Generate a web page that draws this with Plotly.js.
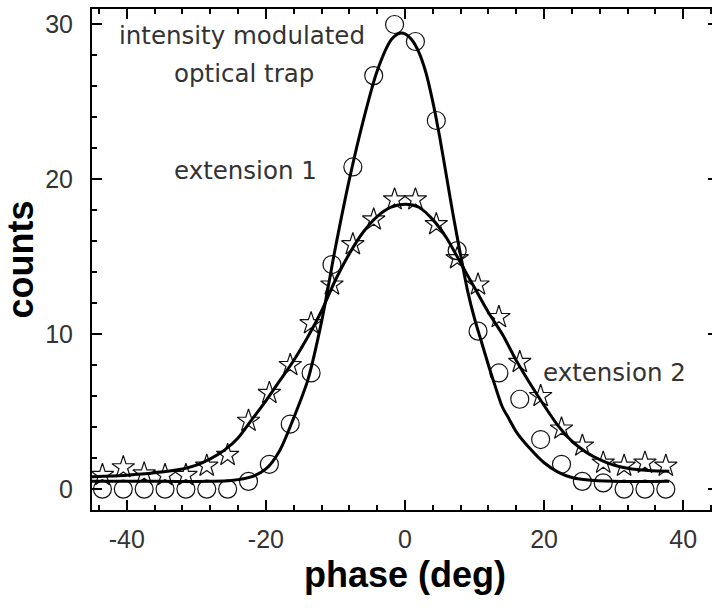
<!DOCTYPE html>
<html>
<head>
<meta charset="utf-8">
<script src="https://cdn.plot.ly/plotly-3.0.1.min.js"></script>
<style>
html, body { margin: 0; padding: 0; overflow: hidden; background: #fff; }
#chart { width: 718px; height: 608px; }
</style>
</head>
<body>
<div id="chart"></div>
<script>
// Phase bins (deg)
const phase = [-43.5, -40.5, -37.5, -34.5, -31.5, -28.5, -25.5, -22.5, -19.5, -16.5,
               -13.5, -10.5, -7.5, -4.5, -1.5, 1.5, 4.5, 7.5, 10.5, 13.5,
               16.5, 19.5, 22.5, 25.5, 28.5, 31.5, 34.5, 37.5];
// extension 1 (circles)
const ext1Counts = [0, 0, 0, 0, 0, 0, 0, 0.5, 1.6, 4.2,
                    7.5, 14.5, 20.8, 26.7, 30.0, 28.9, 23.8, 15.4, 10.2, 7.5,
                    5.8, 3.2, 1.6, 0.5, 0.4, 0, 0, 0];
// extension 2 (stars)
const ext2Counts = [0.9, 1.4, 1.0, 0.9, 0.9, 1.5, 2.2, 4.4, 6.2, 8.0,
                    10.7, 13.2, 15.8, 17.4, 18.7, 18.7, 17.1, 14.9, 13.2, 11.1,
                    8.2, 6.0, 3.9, 2.8, 1.7, 1.5, 1.7, 1.5];
// fitted curve for extension 1
const fit1X = [-45, -35, -28, -25, -22, -20, -18, -16, -14, -12, -10, -8, -6, -4, -2, -1, 0,
               1, 2, 3, 4, 5, 6, 7, 8, 9, 10, 11, 12, 13, 14, 15, 16, 18, 20, 22, 24, 26, 30, 38];
const fit1Y = [0.5, 0.5, 0.5, 0.55, 0.8, 1.3, 2.5, 4.6, 7.0, 10.8, 15.6, 20.0, 23.8, 27.0, 29.0, 29.4, 29.4,
               29.0, 28.2, 26.9, 25.0, 22.7, 20.1, 17.5, 15.1, 12.8, 11.0, 9.5, 8.0, 6.6, 5.3, 4.5, 3.7, 2.6, 1.7, 1.1, 0.75, 0.6, 0.5, 0.5];
// fitted curve for extension 2
const fit2X = [-45, -40, -36, -32, -30, -28, -26, -24, -22, -20, -18, -16, -14, -12, -10, -8, -6, -4, -2, 0,
               2, 4, 6, 8, 10, 12, 14, 16, 18, 20, 22, 24, 26, 28, 30, 32, 35, 38];
const fit2Y = [0.8, 0.9, 1.05, 1.3, 1.55, 1.95, 2.5, 3.3, 4.5, 5.7, 7.0, 8.3, 9.8, 11.5, 13.5, 15.2, 16.6, 17.6, 18.2, 18.4,
               18.2, 17.4, 16.2, 14.6, 13.0, 11.4, 10.0, 8.3, 6.8, 5.4, 4.1, 3.1, 2.4, 1.9, 1.55, 1.35, 1.2, 1.15];
// text labels
const labelText = ['intensity modulated', 'optical trap', 'extension 1', 'extension 2'];
const labelX = [-23.5, -23.2, -22.9, 30.1];
const labelY = [29.3, 26.86, 20.6, 7.56];
const xTicks = [-40, -20, 0, 20, 40];
const yTicks = [0, 10, 20, 30];
const xRange = [-45, 45];
const yRange = [-1.35, 31];

const traces = [
  { x: phase, y: ext1Counts, mode: 'markers', type: 'scatter', name: 'extension 1',
    marker: { symbol: 'circle-open', size: 18, color: '#111', line: { width: 1.2, color: '#111' } } },
  { x: phase, y: ext2Counts, mode: 'markers', type: 'scatter', name: 'extension 2',
    marker: { symbol: 'star-open', size: 17, color: '#111', line: { width: 1.2, color: '#111' } } },
  { x: fit1X, y: fit1Y, mode: 'lines', type: 'scatter', name: 'fit 1',
    line: { color: '#000', width: 3, shape: 'spline', smoothing: 0.8 } },
  { x: fit2X, y: fit2Y, mode: 'lines', type: 'scatter', name: 'fit 2', xaxis: 'x2', yaxis: 'y2',
    line: { color: '#000', width: 3, shape: 'spline', smoothing: 0.8 } }
];

const tickFont = { family: 'Liberation Sans, Arial, sans-serif', size: 25, color: '#333' };
const titleFont = { family: 'Liberation Sans, Arial, sans-serif', size: 36, color: '#000', weight: 'bold' };

function baseAxis(range, ticks, minorStep) {
  return {
    range: range, tickvals: ticks, ticktext: ticks.map(String),
    ticks: 'inside', ticklen: 10, tickwidth: 2, tickcolor: '#000',
    showline: true, linewidth: 2, linecolor: '#000',
    showgrid: false, zeroline: false, fixedrange: true,
    minor: { dtick: minorStep, tick0: 0, ticks: 'inside', ticklen: 5, tickwidth: 2, tickcolor: '#000', showgrid: false }
  };
}

const layout = {
  width: 718, height: 608,
  margin: { l: 92, r: 0, t: 9, b: 98, pad: 0 },
  paper_bgcolor: '#fff', plot_bgcolor: '#fff',
  showlegend: false,
  xaxis: Object.assign(baseAxis(xRange, xTicks, 4), {
    tickfont: tickFont, ticklabelstandoff: 6,
    title: { text: 'phase (deg)', font: titleFont, standoff: 10 }
  }),
  yaxis: Object.assign(baseAxis(yRange, yTicks, 2), {
    tickfont: tickFont, ticklabelstandoff: 12,
    title: { text: 'counts', font: titleFont, standoff: 10 }
  }),
  xaxis2: Object.assign(baseAxis(xRange, xTicks, 4), {
    overlaying: 'x', side: 'top', anchor: 'y2', showticklabels: false
  }),
  yaxis2: Object.assign(baseAxis(yRange, yTicks, 2), {
    overlaying: 'y', side: 'right', anchor: 'x2', showticklabels: false
  }),
  annotations: labelText.map((t, i) => ({
    x: labelX[i], y: labelY[i], xref: 'x', yref: 'y', text: t, showarrow: false,
    xanchor: 'center', yanchor: 'middle',
    font: { family: 'DejaVu Sans, sans-serif', size: 24.5, color: '#333' }
  }))
};

Plotly.newPlot('chart', traces, layout, { displayModeBar: false, staticPlot: true });
</script>
</body>
</html>
